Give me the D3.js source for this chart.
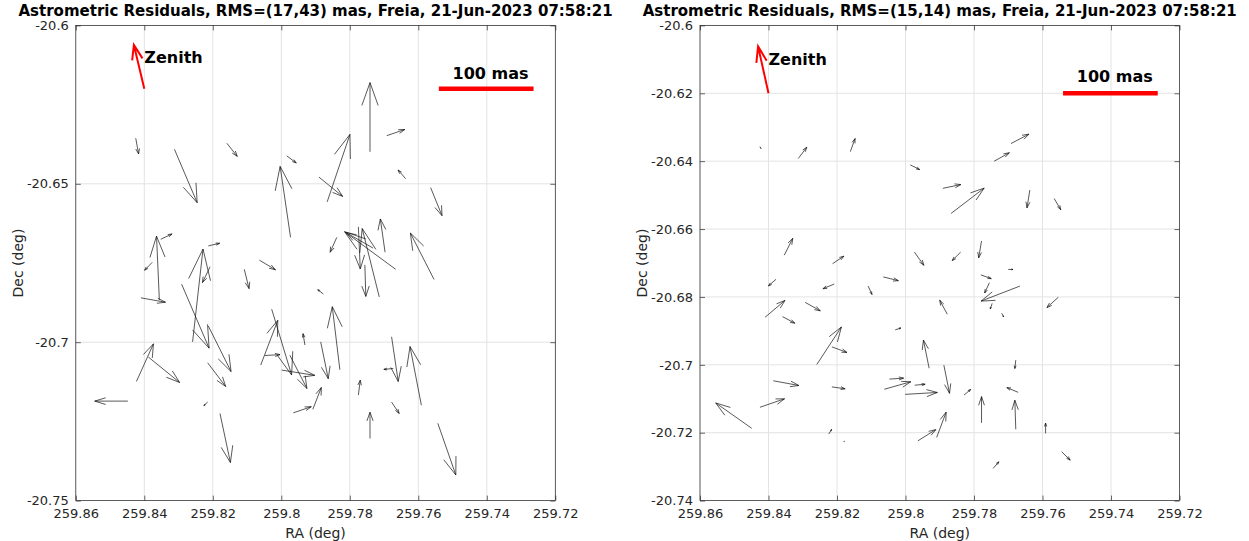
<!DOCTYPE html>
<html>
<head>
<meta charset="utf-8">
<script src="https://cdn.jsdelivr.net/npm/d3@7"></script>
<style>
  body { margin: 0; background: #fff; }
  svg text { font-family: "DejaVu Sans", sans-serif; }
</style>
</head>
<body>
<div id="chart"></div>
<script>
// panel titles
const titles = [
  'Astrometric Residuals, RMS=(17,43) mas, Freia, 21-Jun-2023 07:58:21',
  'Astrometric Residuals, RMS=(15,14) mas, Freia, 21-Jun-2023 07:58:21'
];

// tick values
const raTicks = [259.86, 259.84, 259.82, 259.8, 259.78, 259.76, 259.74, 259.72];
const decTicksLeft = [-20.75, -20.7, -20.65, -20.6];
const decTicksRight = [-20.74, -20.72, -20.7, -20.68, -20.66, -20.64, -20.62, -20.6];

// quiver scale: degrees of axis per mas of residual
const degPerMas = 0.0002765;

// zenith marker: RA, Dec, dRA (mas), dDec (mas)
const zenith = [259.84, -20.62, 11, 50];
// scale bar: RA start, Dec, length (mas)
const scaleBar = [259.754, -20.62, 100];

// residuals: RA (deg), Dec (deg), dRA (mas, + = increasing RA), dDec (mas)
const residualsLeft = [
  [259.8425, -20.6356, -3, -18],
  [259.8312, -20.6391, -24, -61],
  [259.8159, -20.6372, -11, -15],
  [259.7741, -20.6399, 0, 79],
  [259.7692, -20.6348, -19, 7],
  [259.7984, -20.6412, -10, -8],
  [259.7973, -20.6669, 11, 81],
  [259.7866, -20.6557, -24, 77],
  [259.7890, -20.6479, -25, -22],
  [259.7838, -20.6669, 7, -17],
  [259.7697, -20.6716, 5, 38],
  [259.7637, -20.6484, 8, 10],
  [259.7564, -20.6512, -12, -32],
  [259.7554, -20.6802, 25, 53],
  [259.8356, -20.6867, 3, 73],
  [259.8352, -20.6675, -12, 6],
  [259.8377, -20.6748, 8, -9],
  [259.8410, -20.6860, -26, -5],
  [259.8259, -20.6999, -11, 106],
  [259.8208, -20.6762, 8, -18],
  [259.8213, -20.6696, -12, 3],
  [259.8291, -20.6817, -29, -73],
  [259.8213, -20.6949, -24, -52],
  [259.8215, -20.7065, -19, -27],
  [259.8215, -20.7189, 4, -4],
  [259.8423, -20.7124, -18, 43],
  [259.8388, -20.7047, -33, -29],
  [259.8108, -20.6770, -5, -22],
  [259.8064, -20.6741, -17, -11],
  [259.8060, -20.7072, -18, 51],
  [259.8028, -20.6896, -21, -75],
  [259.8048, -20.7042, -16, 1],
  [259.7999, -20.7088, -35, -6],
  [259.7975, -20.7041, -18, -38],
  [259.7666, -20.6770, 54, 43],
  [259.7714, -20.6857, 18, 78],
  [259.7775, -20.6636, -2, -48],
  [259.7756, -20.6756, -1, -36],
  [259.7877, -20.6848, 6, 5],
  [259.7829, -20.7087, 8, 72],
  [259.7931, -20.7009, 2, 13],
  [259.7885, -20.6999, -8, -42],
  [259.7965, -20.7223, -19, 7],
  [259.7908, -20.7212, -9, 25],
  [259.7678, -20.6983, -7, -51],
  [259.7673, -20.7083, 10, -1],
  [259.7591, -20.7199, 12, 67],
  [259.7775, -20.7167, -2, 17],
  [259.7678, -20.7189, -8, -13],
  [259.7741, -20.7304, 0, 30],
  [259.8448, -20.7186, 35, 0],
  [259.8179, -20.7225, -11, -56],
  [259.7543, -20.7256, -19, -59],
  [259.7732, -20.6703, 29, 18]
];

const residualsRight = [
  [259.8425, -20.6357, -1, -2],
  [259.8313, -20.6392, -9, 12],
  [259.8161, -20.6372, -5, 14],
  [259.7986, -20.6411, -10, -5],
  [259.7891, -20.6480, -19, 4],
  [259.8354, -20.6677, -9, 18],
  [259.8213, -20.6702, -12, 8],
  [259.7974, -20.6668, -10, -14],
  [259.7692, -20.6348, -19, 10],
  [259.7741, -20.6400, -16, 9],
  [259.7867, -20.6554, -35, 27],
  [259.7637, -20.6485, 3, -19],
  [259.7566, -20.6510, -7, -12],
  [259.7839, -20.6668, 9, -9],
  [259.7778, -20.6635, 3, -18],
  [259.8378, -20.6748, 8, -7],
  [259.8208, -20.6762, 12, -5],
  [259.8109, -20.6768, -4, -9],
  [259.8065, -20.6741, -16, -4],
  [259.8410, -20.6860, -21, 18],
  [259.8359, -20.6858, -13, -7],
  [259.8293, -20.6816, -16, -9],
  [259.8259, -20.6999, -26, 40],
  [259.8215, -20.6947, -16, -6],
  [259.8030, -20.6897, -6, 2],
  [259.7931, -20.7010, 6, 30],
  [259.7878, -20.6851, 8, 15],
  [259.7888, -20.7001, -6, -30],
  [259.8386, -20.7047, -27, -5],
  [259.8215, -20.7065, -14, -2],
  [259.8047, -20.7042, -15, 1],
  [259.8062, -20.7072, -28, 8],
  [259.7973, -20.7060, -11, 1],
  [259.8001, -20.7087, -34, 2],
  [259.8449, -20.7187, 38, 27],
  [259.8425, -20.7125, -26, 9],
  [259.8224, -20.7204, -3, 5],
  [259.8179, -20.7224, 0, -1],
  [259.7964, -20.7224, -19, 12],
  [259.7909, -20.7214, -10, 27],
  [259.7700, -20.6719, -5, 0],
  [259.7780, -20.6735, -11, -4],
  [259.7755, -20.6758, 5, -11],
  [259.7666, -20.6768, 41, -16],
  [259.7747, -20.6819, 2, -6],
  [259.7719, -20.6848, -2, -4],
  [259.7554, -20.6801, 12, -11],
  [259.7678, -20.6986, 1, -9],
  [259.7829, -20.7089, -7, 6],
  [259.7671, -20.7081, 12, 5],
  [259.7778, -20.7171, 0, 28],
  [259.7678, -20.7190, 1, 31],
  [259.7591, -20.7202, 0, 11],
  [259.7544, -20.7256, -9, -9],
  [259.7744, -20.7305, -6, 7]
];

const width = 1249, height = 541;
const plotW = 479.5, plotTop = 25.4, plotH = 475.2;

const svg = d3.select('#chart').append('svg')
  .attr('width', width)
  .attr('height', height);

const panels = [
  { left: 75.8, title: titles[0], decTicks: decTicksLeft, data: residualsLeft },
  { left: 700, title: titles[1], decTicks: decTicksRight, data: residualsRight }
];

// quiver arrow like matlab: shaft + open head (alpha = beta = 0.33), done in data units
function quiverPath(x, y, ra, dec, dRa, dDec) {
  const u = dRa * degPerMas, v = dDec * degPerMas;
  const a = 0.33, b = 0.33;
  const tx = ra + u, ty = dec + v;
  const h1x = tx - a * (u + b * v), h1y = ty - a * (v - b * u);
  const h2x = tx - a * (u - b * v), h2y = ty - a * (v + b * u);
  return 'M' + x(ra) + ',' + y(dec) + 'L' + x(tx) + ',' + y(ty) +
    'M' + x(h1x) + ',' + y(h1y) + 'L' + x(tx) + ',' + y(ty) + 'L' + x(h2x) + ',' + y(h2y);
}

panels.forEach(p => {
  const decDomain = d3.extent(p.decTicks);
  const x = d3.scaleLinear().domain([259.86, 259.72]).range([p.left, p.left + plotW]);
  const y = d3.scaleLinear().domain(decDomain).range([plotTop + plotH, plotTop]);
  const g = svg.append('g');

  // grid
  g.selectAll('.gx').data(raTicks).enter().append('line')
    .attr('x1', d => x(d)).attr('x2', d => x(d))
    .attr('y1', plotTop).attr('y2', plotTop + plotH)
    .attr('stroke', '#e3e3e3').attr('stroke-width', 1);
  g.selectAll('.gy').data(p.decTicks).enter().append('line')
    .attr('x1', p.left).attr('x2', p.left + plotW)
    .attr('y1', d => y(d)).attr('y2', d => y(d))
    .attr('stroke', '#e3e3e3').attr('stroke-width', 1);

  // residual arrows
  g.selectAll('.arrow').data(p.data).enter().append('path')
    .attr('d', d => quiverPath(x, y, d[0], d[1], d[2], d[3]))
    .attr('fill', 'none')
    .attr('stroke', '#111')
    .attr('stroke-width', 0.7);

  // zenith
  g.append('path')
    .attr('d', quiverPath(x, y, zenith[0], zenith[1], zenith[2], zenith[3]))
    .attr('fill', 'none')
    .attr('stroke', '#ff0000')
    .attr('stroke-width', 2);
  g.append('text')
    .attr('x', x(zenith[0]))
    .attr('y', y(-20.61) + 6)
    .style('font-size', '16px')
    .style('font-weight', 'bold')
    .text('Zenith');

  // scale bar
  g.append('line')
    .attr('x1', x(scaleBar[0])).attr('x2', x(scaleBar[0] - scaleBar[2] * degPerMas))
    .attr('y1', y(scaleBar[1])).attr('y2', y(scaleBar[1]))
    .attr('stroke', '#ff0000')
    .attr('stroke-width', 4.5);
  g.append('text')
    .attr('x', x(259.75))
    .attr('y', y(-20.615) + 6)
    .style('font-size', '16px')
    .style('font-weight', 'bold')
    .text(scaleBar[2] + ' mas');

  // axes, ticks pointing inward on all four sides
  const fmt = d => String(d);
  const axB = g.append('g').attr('transform', 'translate(0,' + (plotTop + plotH) + ')')
    .call(d3.axisBottom(x).tickValues(raTicks).tickFormat(fmt).tickSizeInner(-5).tickSizeOuter(0).tickPadding(8));
  const axT = g.append('g').attr('transform', 'translate(0,' + plotTop + ')')
    .call(d3.axisTop(x).tickValues(raTicks).tickFormat('').tickSizeInner(-5).tickSizeOuter(0));
  const axL = g.append('g').attr('transform', 'translate(' + p.left + ',0)')
    .call(d3.axisLeft(y).tickValues(p.decTicks).tickFormat(fmt).tickSizeInner(-5).tickSizeOuter(0).tickPadding(7));
  const axR = g.append('g').attr('transform', 'translate(' + (p.left + plotW) + ',0)')
    .call(d3.axisRight(y).tickValues(p.decTicks).tickFormat('').tickSizeInner(-5).tickSizeOuter(0));
  [axB, axT, axL, axR].forEach(a => {
    a.select('.domain').remove();
    a.selectAll('line').attr('stroke', '#262626').attr('stroke-width', 0.7);
    a.selectAll('text').attr('fill', '#262626').style('font-size', '13px').style('font-family', '"DejaVu Sans", sans-serif');
  });

  g.append('rect')
    .attr('x', p.left).attr('y', plotTop)
    .attr('width', plotW).attr('height', plotH)
    .attr('fill', 'none')
    .attr('stroke', '#262626')
    .attr('stroke-width', 0.7);

  // title
  g.append('text')
    .attr('x', p.left + plotW / 2)
    .attr('y', 16)
    .attr('text-anchor', 'middle')
    .style('font-size', '15px')
    .style('font-weight', 'bold')
    .text(p.title);

  // axis labels
  g.append('text')
    .attr('x', p.left + plotW / 2)
    .attr('y', 538)
    .attr('text-anchor', 'middle')
    .attr('fill', '#262626')
    .style('font-size', '14px')
    .text('RA (deg)');
  g.append('text')
    .attr('transform', 'rotate(-90)')
    .attr('x', -(plotTop + plotH / 2))
    .attr('y', p.left - 53)
    .attr('text-anchor', 'middle')
    .attr('fill', '#262626')
    .style('font-size', '14px')
    .text('Dec (deg)');
});
</script>
</body>
</html>
